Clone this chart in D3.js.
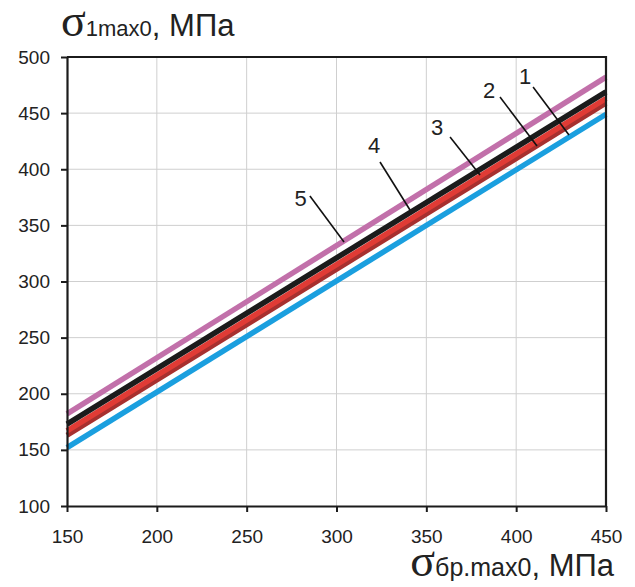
<!DOCTYPE html>
<html>
<head>
<meta charset="utf-8">
<script src="https://cdn.jsdelivr.net/npm/d3@7"></script>
<style>
  body { margin: 0; background: #fff; }
  text { font-family: "Liberation Sans", Arial, sans-serif; fill: #222; }
</style>
</head>
<body>
<div id="chart"></div>
<script>
'use strict';

// data
const xValues = [150, 450];
const series1 = [152, 449];   // blue
const series2 = [163, 459];   // dark red
const series3 = [167, 463];   // red
const series4 = [173, 469];   // black
const series5 = [182, 482];   // pink
const xTicks = [150, 200, 250, 300, 350, 400, 450];
const yTicks = [100, 150, 200, 250, 300, 350, 400, 450, 500];

// label number, text position, leader start, leader end (data units)
const labelNames = ['1', '2', '3', '4', '5'];
const labelPos = [[405, 483], [385, 470], [356, 437], [321, 421], [280, 373.5]];
const leaderFrom = [[409.4, 473.3], [391, 464.4], [363.2, 428.7], [324.2, 406.5], [285.2, 376.2]];
const leaderTo = [[429.4, 430.5], [411.6, 420.7], [379.9, 394.9], [340.9, 363.7], [304.2, 335.2]];

const drawChart = () => {
  let margin = {top: 57, right: 29, bottom: 81, left: 67},
    width = 635 - margin.left - margin.right,
    height = 587 - margin.top - margin.bottom;

  let svg = d3.select('#chart').append('svg')
    .attr('width', 635)
    .attr('height', 587);

  let g = svg.append('g').attr('transform', 'translate(' + margin.left + ',' + margin.top + ')');

  let xScale = d3.scaleLinear().domain([150, 450]).range([0, width]);
  let yScale = d3.scaleLinear().domain([100, 500]).range([height, 0]);

  // grid
  g.append('g')
    .selectAll('line.vg')
    .data(xTicks.slice(1, -1))
    .join('line')
    .attr('x1', d => xScale(d)).attr('x2', d => xScale(d))
    .attr('y1', 0).attr('y2', height)
    .attr('stroke', '#cfcfcf').attr('stroke-width', 1);

  g.append('g')
    .selectAll('line.hg')
    .data(yTicks.slice(1, -1))
    .join('line')
    .attr('x1', 0).attr('x2', width)
    .attr('y1', d => yScale(d)).attr('y2', d => yScale(d))
    .attr('stroke', '#cfcfcf').attr('stroke-width', 1);

  // series
  let line = d3.line()
    .x((d, i) => xScale(xValues[i]))
    .y(d => yScale(d));

  const series = [
    {v: series1, c: '#1a9fdf'},
    {v: series2, c: '#a7302f'},
    {v: series3, c: '#e03b35'},
    {v: series4, c: '#1b1b1b'},
    {v: series5, c: '#c270aa'}
  ];
  g.selectAll('path.s')
    .data(series)
    .join('path')
    .attr('fill', 'none')
    .attr('stroke', d => d.c)
    .attr('stroke-width', 5.5)
    .attr('d', d => line(d.v));

  // leaders and numbers
  g.selectAll('line.ld')
    .data(labelNames)
    .join('line')
    .attr('x1', (d, i) => xScale(leaderFrom[i][0]))
    .attr('y1', (d, i) => yScale(leaderFrom[i][1]))
    .attr('x2', (d, i) => xScale(leaderTo[i][0]))
    .attr('y2', (d, i) => yScale(leaderTo[i][1]))
    .attr('stroke', '#111').attr('stroke-width', 1.6);

  g.selectAll('text.lb')
    .data(labelNames)
    .join('text')
    .attr('x', (d, i) => xScale(labelPos[i][0]))
    .attr('y', (d, i) => yScale(labelPos[i][1]))
    .attr('text-anchor', 'middle')
    .attr('dominant-baseline', 'central')
    .style('font-size', '22px')
    .text(d => d);

  // axes
  let xAxis = g.append('g')
    .attr('transform', 'translate(0,' + height + ')')
    .call(d3.axisBottom(xScale).tickValues(xTicks).tickSize(6).tickPadding(18).tickSizeOuter(0));
  let yAxis = g.append('g')
    .call(d3.axisLeft(yScale).tickValues(yTicks).tickSize(6).tickPadding(11).tickSizeOuter(0));

  [xAxis, yAxis].forEach(a => {
    a.select('.domain').attr('stroke', '#1b1b1b').attr('stroke-width', 2.2);
    a.selectAll('.tick line').attr('stroke', '#1b1b1b').attr('stroke-width', 2);
    a.selectAll('.tick text').style('font-size', '19px').style('font-family', '"Liberation Sans", Arial, sans-serif').attr('fill', '#2a2a2a');
  });

  // top and right border
  g.append('path')
    .attr('d', 'M0,0H' + width + 'V' + height)
    .attr('fill', 'none')
    .attr('stroke', '#1b1b1b')
    .attr('stroke-width', 2.2);

  // axis titles
  let yt = svg.append('text').attr('x', 61).attr('y', 36);
  yt.append('tspan').style('font-family', '"Liberation Serif", serif').style('font-size', '46px').text('σ');
  yt.append('tspan').style('font-size', '22px').text('1max0');
  yt.append('tspan').style('font-size', '31px').text(', МПа');

  let xt = svg.append('text').attr('x', 614).attr('y', 576).attr('text-anchor', 'end');
  xt.append('tspan').style('font-family', '"Liberation Serif", serif').style('font-size', '46px').text('σ');
  xt.append('tspan').style('font-size', '25px').text('бр.max0');
  xt.append('tspan').style('font-size', '31px').text(', МПа');
};

drawChart();
</script>
</body>
</html>
